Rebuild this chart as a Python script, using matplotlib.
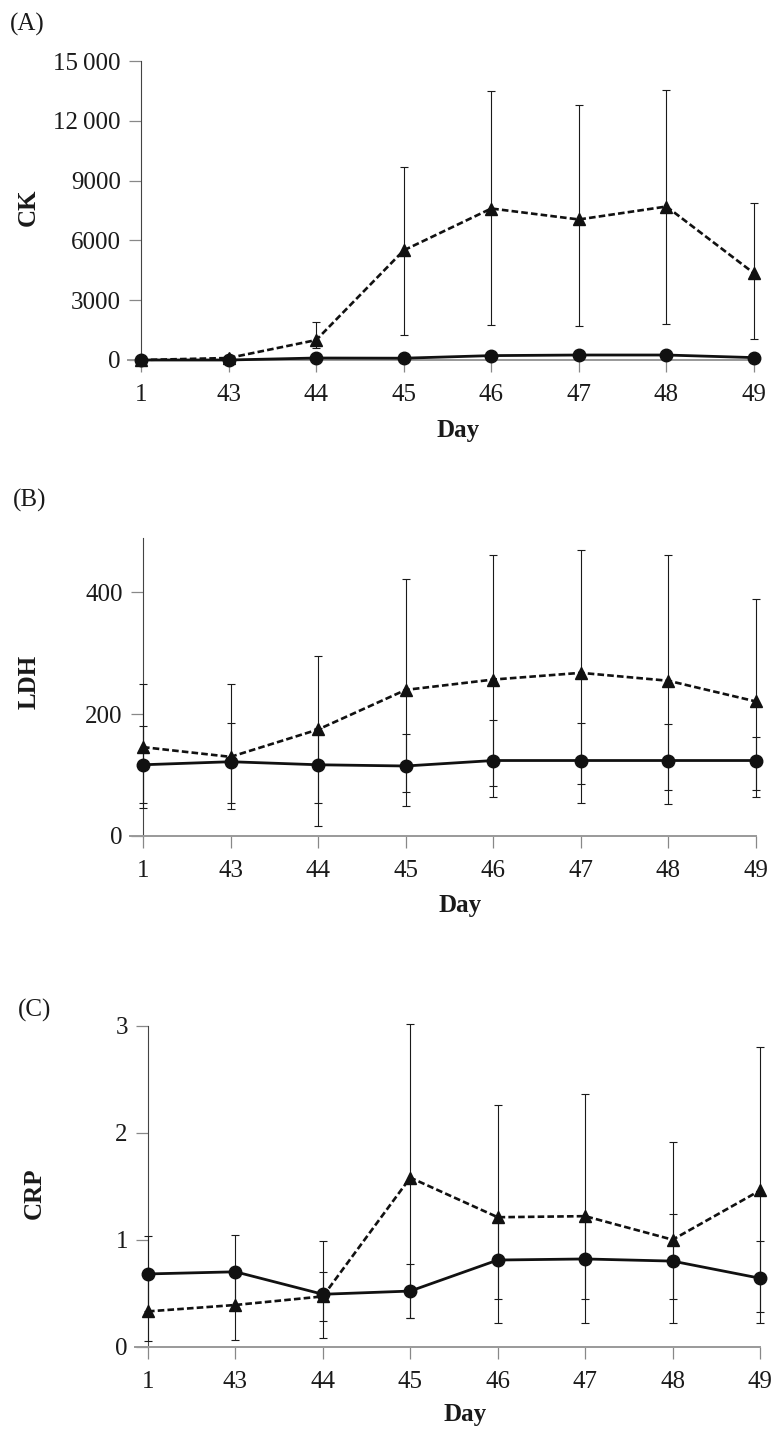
import matplotlib
matplotlib.use('Agg')
import matplotlib.pyplot as plt

plt.rcParams['font.family'] = ['Liberation Serif', 'DejaVu Serif']

# Datos
days = ['1', '43', '44', '45', '46', '47', '48', '49']

ck_tri = [0, 100, 1000, 5500, 7600, 7050, 7700, 4350]
ck_tri_low = [0, 50, 600, 1250, 1750, 1720, 1820, 1050]
ck_tri_high = [0, 150, 1900, 9700, 13500, 12800, 13550, 7900]
ck_cir = [0, 0, 100, 90, 220, 250, 250, 120]
ck_cir_low = [0, 0, 20, 20, 120, 150, 150, 40]
ck_cir_high = [0, 0, 180, 160, 320, 350, 350, 200]
ck_ticks = [0, 3000, 6000, 9000, 12000, 15000]
ck_ticklabels = ['0', '3000', '6000', '9000', '12\u2009000', '15\u2009000']

ldh_tri = [146, 130, 175, 240, 257, 268, 255, 221]
ldh_tri_low = [46, 45, 55, 50, 64, 54, 53, 64]
ldh_tri_high = [249, 249, 295, 422, 462, 470, 462, 390]
ldh_cir = [117, 122, 117, 115, 124, 124, 124, 124]
ldh_cir_low = [54, 55, 17, 73, 82, 86, 76, 76]
ldh_cir_high = [180, 185, 177, 168, 190, 185, 184, 163]
ldh_ticks = [0, 200, 400]
ldh_ticklabels = ['0', '200', '400']

crp_tri = [0.33, 0.39, 0.47, 1.58, 1.21, 1.22, 1.00, 1.46]
crp_tri_low = [0.05, 0.06, 0.08, 0.27, 0.22, 0.22, 0.22, 0.22]
crp_tri_high = [0.68, 0.70, 0.99, 3.02, 2.26, 2.36, 1.91, 2.80]
crp_cir = [0.68, 0.70, 0.49, 0.52, 0.81, 0.82, 0.80, 0.64]
crp_cir_low = [0.33, 0.39, 0.24, 0.27, 0.45, 0.45, 0.45, 0.32]
crp_cir_high = [1.03, 1.04, 0.70, 0.77, 1.21, 1.22, 1.24, 0.99]
crp_ticks = [0, 1, 2, 3]
crp_ticklabels = ['0', '1', '2', '3']

W, H = 783, 1442
fig = plt.figure(figsize=(W / 100, H / 100), dpi=100)


def px_axes(left, right, top, bottom):
    return fig.add_axes([left / W, 1 - bottom / H, (right - left) / W, (bottom - top) / H])


def panel(ax, tri, tri_lo, tri_hi, cir, cir_lo, cir_hi, ymax, ticks, ticklabels):
    x = list(range(len(days)))
    tri_err = [[m - l for m, l in zip(tri, tri_lo)], [h - m for m, h in zip(tri, tri_hi)]]
    cir_err = [[m - l for m, l in zip(cir, cir_lo)], [h - m for m, h in zip(cir, cir_hi)]]
    ax.errorbar(x, tri, yerr=tri_err, fmt='none', ecolor='#1a1a1a', elinewidth=0.8,
                capsize=3.2, capthick=0.8, clip_on=False, zorder=3)
    ax.errorbar(x, cir, yerr=cir_err, fmt='none', ecolor='#1a1a1a', elinewidth=0.8,
                capsize=3.2, capthick=0.8, clip_on=False, zorder=3)
    ax.plot(x, tri, color='#111111', lw=1.9, linestyle=(0, (2.5, 1.2)),
            marker='^', ms=9, mfc='#111111', mec='#111111', clip_on=False, zorder=4)
    ax.plot(x, cir, color='#111111', lw=2.0, linestyle='-',
            marker='o', ms=9, mfc='#111111', mec='#111111', clip_on=False, zorder=5)
    ax.set_xlim(0, 7)
    ax.set_ylim(0, ymax)
    ax.set_xticks(x)
    ax.set_xticklabels(days)
    ax.set_yticks(ticks)
    ax.set_yticklabels(ticklabels)
    for s in ['top', 'right']:
        ax.spines[s].set_visible(False)
    ax.spines['left'].set_color('#444444')
    ax.spines['left'].set_linewidth(0.8)
    ax.spines['bottom'].set_color('#999999')
    ax.spines['bottom'].set_linewidth(1.4)
    ax.spines['bottom'].set_bounds(-0.15, 7)
    ax.tick_params(axis='both', direction='out', length=8.5, width=0.9, color='#888888',
                   labelsize=18, labelcolor='#1a1a1a')
    ax.tick_params(axis='x', pad=9)
    ax.tick_params(axis='y', pad=6)
    ax.patch.set_visible(False)


axA = px_axes(141, 754, 61, 360)
panel(axA, ck_tri, ck_tri_low, ck_tri_high, ck_cir, ck_cir_low, ck_cir_high,
      15000, ck_ticks, ck_ticklabels)
axB = px_axes(143, 756, 537.7, 836)
panel(axB, ldh_tri, ldh_tri_low, ldh_tri_high, ldh_cir, ldh_cir_low, ldh_cir_high,
      490, ldh_ticks, ldh_ticklabels)
axC = px_axes(148, 760, 1025.7, 1346.7)
panel(axC, crp_tri, crp_tri_low, crp_tri_high, crp_cir, crp_cir_low, crp_cir_high,
      3, crp_ticks, crp_ticklabels)


def ftext(xp, yp, s, **kw):
    fig.text(xp / W, 1 - yp / H, s, color='#1a1a1a', **kw)


# Etiquetas de panel
ftext(10, 24, '(A)', fontsize=18, ha='left', va='center')
ftext(13, 500, '(B)', fontsize=18, ha='left', va='center')
ftext(18, 1010, '(C)', fontsize=18, ha='left', va='center')

# Ejes Y
ftext(28, 207, 'CK', fontsize=18, fontweight='bold', rotation=90, ha='center', va='center')
ftext(29, 682, 'LDH', fontsize=18, fontweight='bold', rotation=90, ha='center', va='center')
ftext(34, 1193, 'CRP', fontsize=18, fontweight='bold', rotation=90, ha='center', va='center')

# Ejes X
ftext(458, 430, 'Day', fontsize=18, fontweight='bold', ha='center', va='center')
ftext(460, 905, 'Day', fontsize=18, fontweight='bold', ha='center', va='center')
ftext(465, 1415, 'Day', fontsize=18, fontweight='bold', ha='center', va='center')

fig.savefig('out.png', dpi=100)
